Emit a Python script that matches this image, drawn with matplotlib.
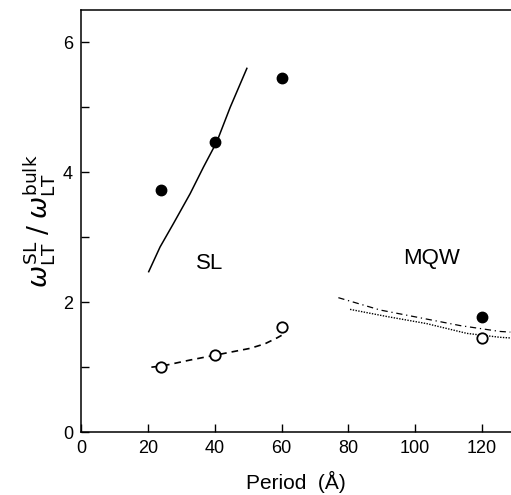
import matplotlib
matplotlib.use('Agg')
import matplotlib.pyplot as plt

plt.rcParams['font.family'] = ['Liberation Sans', 'DejaVu Sans']
plt.rcParams['mathtext.fontset'] = 'dejavusans'

# measured points
period_pts = [24, 40, 60, 120]
filled_vals = [3.72, 4.46, 5.45, 1.78]
open_vals = [1.01, 1.19, 1.62, 1.45]

# SL theory (solid) and fit (dashed)
sl_x = [20.2, 23.6, 27.6, 32.6, 36.6, 40.6, 44.6, 49.6]
sl_y = [2.47, 2.85, 3.21, 3.67, 4.08, 4.47, 5.0, 5.6]
sl_open_x = [21, 24.4, 32.6, 40.6, 50.6, 55, 58.6, 60]
sl_open_y = [1.0, 1.02, 1.11, 1.19, 1.29, 1.36, 1.45, 1.49]

# MQW curves
mqw_dd_x = [77, 89.5, 101.5, 113.5, 125.4, 128.5]
mqw_dd_y = [2.07, 1.88, 1.76, 1.64, 1.55, 1.54]
mqw_dot_x = [80.5, 91.5, 103.5, 115.5, 125.4, 128.5]
mqw_dot_y = [1.89, 1.78, 1.67, 1.52, 1.46, 1.45]

fig = plt.figure(figsize=(5.11, 4.95), dpi=100)
ax = fig.add_axes([0.159, 0.127, 0.841, 0.853])

ax.plot(sl_x, sl_y, '-', color='black', lw=1.1)
ax.plot(sl_open_x, sl_open_y, '--', color='black', lw=1.2, dashes=(4, 3))
ax.plot(mqw_dd_x, mqw_dd_y, '-.', color='black', lw=0.9, dashes=(5, 3, 1, 3))
ax.plot(mqw_dot_x, mqw_dot_y, ':', color='black', lw=1.0, dashes=(1, 1))

ax.plot(period_pts, filled_vals, 'o', color='black', ms=7.5, clip_on=False)
ax.plot(period_pts, open_vals, 'o', mfc='white', mec='black', mew=1.3, ms=7.5, clip_on=False)

ax.text(38.5, 2.6, 'SL', fontsize=16, ha='center', va='center')
ax.text(105, 2.68, 'MQW', fontsize=16, ha='center', va='center')

ax.set_xlim(0, 128.7)
ax.set_ylim(0, 6.5)
ax.set_xticks([0, 20, 40, 60, 80, 100, 120])
ax.set_yticks([0, 2, 4, 6])
ax.set_yticks([1, 3, 5], minor=True)
ax.tick_params(axis='both', which='both', direction='in', labelsize=13, width=1)
ax.tick_params(axis='both', which='major', length=6, pad=6)
ax.tick_params(axis='y', which='minor', length=6)
ax.spines['right'].set_visible(False)
for s in ['left', 'bottom', 'top']:
    ax.spines[s].set_linewidth(1.1)

ax.set_xlabel('Period  (Å)', fontsize=15, labelpad=10)
ax.set_ylabel(r'$\omega^{\rm SL}_{\rm LT}\;/\;\omega^{\rm bulk}_{\rm LT}$', fontsize=19, labelpad=4)

fig.savefig('out.png', dpi=100)
